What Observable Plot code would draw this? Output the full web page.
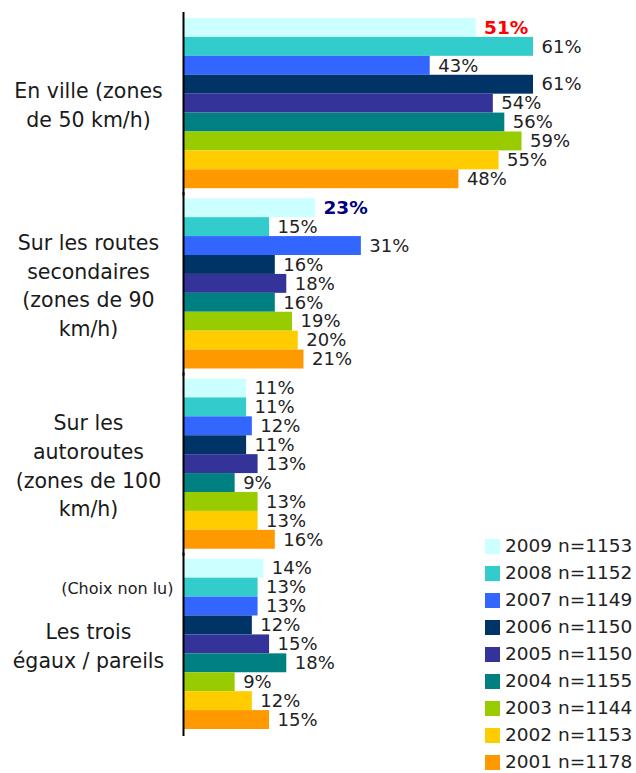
<!DOCTYPE html>
<html>
<head>
<meta charset="utf-8">
<script src="https://cdn.jsdelivr.net/npm/d3@7"></script>
<script src="https://cdn.jsdelivr.net/npm/@observablehq/plot@0.6"></script>
<style>
  html, body { margin: 0; padding: 0; background: #fff; }
  #wrap { position: relative; width: 636px; height: 773px; overflow: hidden; font-family: "DejaVu Sans", sans-serif; }
  #legend { position: absolute; left: 485px; top: 533px; }
  .row { display: flex; align-items: center; height: 27px; }
  .sw { width: 15px; height: 15px; margin-right: 5px; }
  .lb { font-size: 18.5px; line-height: 1; color: #222; white-space: nowrap; }
</style>
</head>
<body>
<div id="wrap"></div>
<script>
const years = ["2009", "2008", "2007", "2006", "2005", "2004", "2003", "2002", "2001"];
const sampleSizes = [1153, 1152, 1149, 1150, 1150, 1155, 1144, 1153, 1178];
const colors = ["#CCFFFF", "#33CCCC", "#3366FF", "#003366", "#333399", "#008080", "#99CC00", "#FFCC00", "#FF9900"];

const groups = ["ville", "secondaires", "autoroutes", "egaux"];
const groupLabels = [
  "En ville (zones\nde 50 km/h)",
  "Sur les routes\nsecondaires\n(zones de 90\nkm/h)",
  "Sur les\nautoroutes\n(zones de 100\nkm/h)",
  "Les trois\négaux / pareils"
];
const noteLabel = "(Choix non lu)";

const valuesVille = [51, 61, 43, 61, 54, 56, 59, 55, 48];
const valuesSecondaires = [23, 15, 31, 16, 18, 16, 19, 20, 21];
const valuesAutoroutes = [11, 11, 12, 11, 13, 9, 13, 13, 16];
const valuesEgaux = [14, 13, 13, 12, 15, 18, 9, 12, 15];
const highlightColors = ["#FF0000", "#000080", null, null];

const seriesValues = [valuesVille, valuesSecondaires, valuesAutoroutes, valuesEgaux];
const rows = [];
groups.forEach((g, gi) => {
  years.forEach((y, yi) => {
    rows.push({group: g, year: y, value: seriesValues[gi][yi], gi, yi});
  });
});
const isHL = d => d.yi === 0 && highlightColors[d.gi];
const labelRows = groups.map((g, gi) => ({group: g, label: groupLabels[gi]}));

const chart = Plot.plot({
  width: 636,
  height: 773,
  marginLeft: 183,
  marginRight: 103,
  marginTop: 18,
  marginBottom: 44,
  style: {fontFamily: "DejaVu Sans, sans-serif", background: "#fff"},
  x: {domain: [0, 61], axis: null},
  y: {domain: years, padding: 0, round: false, axis: null},
  fy: {domain: groups, paddingInner: 10 / 180, paddingOuter: 0, round: false, axis: null},
  color: {domain: years, range: colors},
  marks: [
    Plot.barX(rows, {x: "value", y: "year", fy: "group", fill: "year"}),
    Plot.ruleX([0], {stroke: "#000", strokeWidth: 2, insetTop: -6, insetBottom: -7}),
    Plot.text(rows.filter(d => !isHL(d)), {
      x: "value", y: "year", fy: "group", text: d => d.value + "%",
      dx: 8, textAnchor: "start", fontSize: 18, fill: "#222"
    }),
    ...highlightColors.map((c, gi) => c ? Plot.text(rows.filter(d => d.gi === gi && d.yi === 0), {
      x: "value", y: "year", fy: "group", text: d => d.value + "%",
      dx: 8, textAnchor: "start", fontSize: 18.5, fontWeight: "bold", fill: c
    }) : null).filter(Boolean),
    Plot.text(labelRows, {
      fy: "group", text: "label", frameAnchor: "left", dx: -95,
      textAnchor: "middle", lineAnchor: "middle", lineHeight: 1.4,
      fontSize: 20.5, fill: "#1a1a1a"
    }),
    Plot.text([{group: groups[3], label: noteLabel}], {
      fy: "group", text: "label", frameAnchor: "top-left", dx: -10, dy: 30,
      textAnchor: "end", lineAnchor: "middle", fontSize: 16, fill: "#1a1a1a"
    })
  ]
});

const wrap = document.getElementById("wrap");
wrap.appendChild(chart);

const legend = d3.select(wrap).append("div").attr("id", "legend");
years.forEach((y, i) => {
  const row = legend.append("div").attr("class", "row");
  row.append("div").attr("class", "sw").style("background", colors[i]);
  row.append("div").attr("class", "lb").text(`${y} n=${sampleSizes[i]}`);
});
</script>
</body>
</html>
